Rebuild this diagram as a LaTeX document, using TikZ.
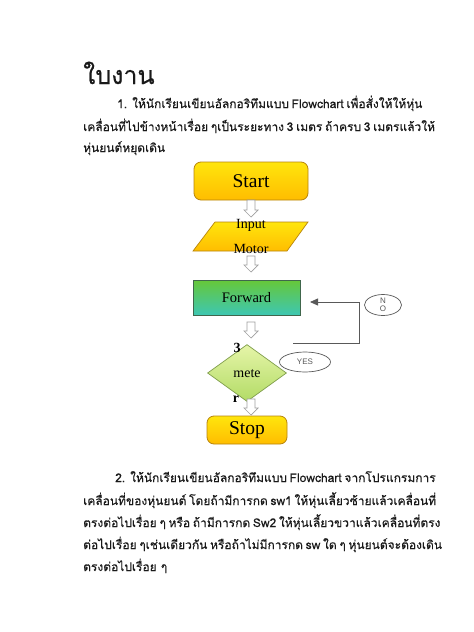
\documentclass[tikz,border=0pt]{standalone}
\usepackage{fontspec}
\setmainfont{Liberation Serif}
\newfontfamily\thai[Script=Thai,FakeBold=0.35]{Loma}
\newfontfamily\lsans{Liberation Sans}
\usetikzlibrary{arrows.meta,shapes.geometric}
\definecolor{txt}{rgb}{0.10,0.10,0.10}
\definecolor{ylwtop}{rgb}{1,0.90,0.05}
\definecolor{ylwbot}{rgb}{1,0.74,0.0}
\definecolor{ylwline}{rgb}{0.72,0.52,0.05}
\definecolor{grntop}{rgb}{0.40,0.78,0.22}
\definecolor{grnbot}{rgb}{0.24,0.78,0.70}
\definecolor{grnline}{rgb}{0.25,0.40,0.30}
\definecolor{dmdtop}{rgb}{0.90,0.96,0.66}
\definecolor{dmdbot}{rgb}{0.70,0.86,0.40}
\definecolor{dmdline}{rgb}{0.50,0.62,0.30}
\newcommand\harrow[3]{%
  \draw[hollowarr] (#1-4,#2) -- (#1-4,#3-7) -- (#1-7,#3-7) -- (#1,#3) -- (#1+7,#3-7) -- (#1+4,#3-7) -- (#1+4,#2) -- cycle;}
\begin{document}
\begin{tikzpicture}[x=1pt,y=-1pt,
  thtext/.style={anchor=base west,inner sep=0,text=txt,font=\thai\fontsize{12}{14}\selectfont},
  termbox/.style={draw=ylwline,line width=0.8pt,rounded corners=7pt,top color=ylwtop,bottom color=ylwbot,inner sep=0,font=\fontsize{19.5}{20}\selectfont,text=black},
  fwdbox/.style={draw=grnline,line width=0.6pt,top color=grntop,bottom color=grnbot,inner sep=0,font=\fontsize{14.5}{16}\selectfont,text=black},
  flowtext/.style={inner sep=0,font=\fontsize{14}{15}\selectfont,text=black},
  hollowarr/.style={draw=gray!75,fill=white,line width=0.7pt},
  loopline/.style={draw=gray!70!black,line width=0.8pt},
  label/.style={ellipse,draw=gray!70!black,line width=0.7pt,inner sep=0,align=center,text=gray!70!black,font=\lsans\fontsize{8}{9}\selectfont}
]
\useasboundingbox (0,0) rectangle (474,632);
\fill[white] (0,0) rectangle (474,632);

% title and paragraph 1
\node[anchor=base west,inner sep=0,text=txt,font=\thai\fontsize{25}{28}\selectfont] (title) at (83,84) {ใบงาน};
\node[thtext] (p1a) at (117,108) {\makebox[283pt][s]{1. ให้นักเรียนเขียนอัลกอริทึมแบบ Flowchart  เพื่อสั่งให้ให้หุ่น}};
\node[thtext] (p1b) at (83,131) {\makebox[316pt][s]{เคลื่อนที่ไปข้างหน้าเรื่อย ๆเป็นระยะทาง  3 เมตร  ถ้าครบ  3 เมตรแล้วให้}};
\node[thtext] (p1c) at (83,152) {หุ่นยนต์หยุดเดิน};

% flowchart
\node[termbox,minimum width=114pt,minimum height=38pt] (start) at (251,181) {Start};
\harrow{251}{200}{217}
\path[draw=ylwline,line width=0.7pt,top color=ylwtop,bottom color=ylwbot] (193,251) -- (215,222) -- (308,222) -- (287,251) -- cycle;
\node[flowtext] (input) at (251,225) {Input};
\node[flowtext] (motor) at (251,249) {Motor};
\harrow{251}{256}{272}
\node[fwdbox,minimum width=107pt,minimum height=35pt] (fwd) at (246.5,297.5) {Forward};
\harrow{251}{322}{338}
\node[diamond,draw=dmdline,line width=0.7pt,top color=dmdtop,bottom color=dmdbot,minimum width=79pt,minimum height=57pt,inner sep=0] (dec) at (247,373) {};
\node[flowtext,font=\bfseries\fontsize{14}{15}\selectfont] (d3) at (237,348) {3};
\node[flowtext] (dmete) at (247,374) {mete};
\node[flowtext,font=\bfseries\fontsize{14}{15}\selectfont] (dr) at (236,399) {r};
\harrow{251}{399}{415}
\node[termbox,minimum width=80pt,minimum height=28pt] (stop) at (247,430) {Stop};

% NO loop
\coordinate (nostart) at (293,343);
\coordinate (noin) at (310,302);
\draw[loopline,-{Triangle[length=8pt,width=7pt]}] (nostart) -- (359,343) |- (noin);
\node[label,minimum width=37pt,minimum height=21pt] (no) at (383,305) {N\\[-1pt]O};
\node[label,minimum width=51pt,minimum height=20pt] (yes) at (305,362) {YES};

% paragraph 2
\node[thtext] (p2a) at (115,482) {\makebox[285pt][s]{2. ให้นักเรียนเขียนอัลกอริทึมแบบ Flowchart จากโปรแกรมการ}};
\node[thtext] (p2b) at (83,505) {\makebox[297pt][s]{เคลื่อนที่ของหุ่นยนต์ โดยถ้ามีการกด sw1  ให้หุ่นเลี้ยวซ้ายแล้วเคลื่อนที่}};
\node[thtext] (p2c) at (83,527) {\makebox[317pt][s]{ตรงต่อไปเรื่อย ๆ   หรือ  ถ้ามีการกด  Sw2  ให้หุ่นเลี้ยวขวาแล้วเคลื่อนที่ตรง}};
\node[thtext] (p2d) at (83,549) {\makebox[315pt][s]{ต่อไปเรื่อย ๆเช่นเดียวกัน   หรือถ้าไม่มีการกด  sw  ใด ๆ  หุ่นยนต์จะต้องเดิน}};
\node[thtext] (p2e) at (83,571) {ตรงต่อไปเรื่อย ๆ};
\end{tikzpicture}
\end{document}
